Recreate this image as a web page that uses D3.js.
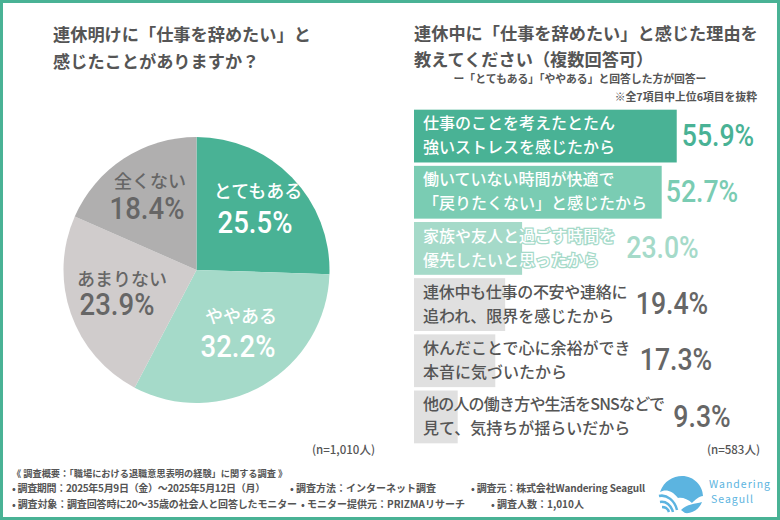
<!DOCTYPE html>
<html>
<head>
<meta charset="utf-8">
<script src="https://cdn.jsdelivr.net/npm/d3@7"></script>
<style>
  html, body { margin: 0; padding: 0; background: #fff; }
  svg { display: block; }
  text { font-family: "Noto Sans CJK JP", sans-serif; }
  .num { font-family: Roboto, sans-serif; font-weight: 500; }
</style>
</head>
<body>
<svg id="chart" width="780" height="520"></svg>
<script>
// pie: 連休明けに
var pieCategories = ["とてもある", "ややある", "あまりない", "全くない"];
var pieValues = [25.5, 32.2, 23.9, 18.4];
var pieColors = ["#49b295", "#a5dac9", "#d0cccc", "#b0afaf"];
var pieTextColors = ["#fff", "#fff", "#666", "#666"];

// bars: 理由
var barLines = [
  ["仕事のことを考えたとたん", "強いストレスを感じたから"],
  ["働いていない時間が快適で", "「戻りたくない」と感じたから"],
  ["家族や友人と過ごす時間を", "優先したいと思ったから"],
  ["連休中も仕事の不安や連絡に", "追われ、限界を感じたから"],
  ["休んだことで心に余裕ができ", "本音に気づいたから"],
  ["他の人の働き方や生活をSNSなどで", "見て、気持ちが揺らいだから"]
];
var barValues = [55.9, 52.7, 23.0, 19.4, 17.3, 9.3];
var barColors = ["#49b295", "#7accb3", "#a5dac9", "#e0e0e0", "#e0e0e0", "#e0e0e0"];
var barNumColors = ["#49b295", "#7accb3", "#a5dac9", "#666", "#666", "#666"];

var footerLines = [
  "《 調査概要：「職場における退職意思表明の経験」に関する調査 》",
  "• 調査期間：2025年5月9日（金）～2025年5月12日（月）",
  "• 調査方法：インターネット調査",
  "• 調査元：株式会社Wandering Seagull",
  "• 調査対象：調査回答時に20～35歳の社会人と回答したモニター",
  "• モニター提供元：PRIZMAリサーチ",
  "• 調査人数：1,010人"
];

var svg = d3.select("#chart");
var ink = "#555";

svg.append("rect").attr("x", 1.5).attr("y", 1.5).attr("width", 777).attr("height", 517)
  .attr("fill", "#fff").attr("stroke", "#49b295").attr("stroke-width", 3);

function label(x, y, str, size, color, weight, anchor) {
  return svg.append("text").attr("x", x).attr("y", y).text(str)
    .attr("font-size", size).attr("fill", color)
    .attr("font-weight", weight || 700)
    .attr("text-anchor", anchor || "start");
}

// the percentages in the picture are a narrow DIN-like face, so squeeze them
function percent(x, y, value, size, color) {
  return svg.append("text").attr("class", "num")
    .attr("transform", "translate(" + x + "," + y + ") scale(0.86,1)")
    .attr("text-anchor", "middle")
    .attr("font-size", size)
    .attr("fill", color)
    .text(value.toFixed(1) + "%");
}

// titles
label(53, 41, "連休明けに「仕事を辞めたい」と", 17.2, ink);
label(53, 68, "感じたことがありますか？", 17.2, ink);
label(414, 40, "連休中に「仕事を辞めたい」と感じた理由を", 17.2, ink);
label(414, 65.5, "教えてください（複数回答可）", 17.2, ink);
label(580, 83, "ー「とてもある」「ややある」と回答した方が回答ー", 10.8, ink, 700, "middle");
label(757, 101, "※全7項目中上位6項目を抜粋", 10.8, ink, 700, "end");

// pie
var cx = 196.5, cy = 270;
var pie = d3.pie().sort(null).value(function(d) { return d; });
var arc = d3.arc().innerRadius(0).outerRadius(133);
var arcs = pie(pieValues);

svg.append("g").attr("transform", "translate(" + cx + "," + cy + ")")
  .selectAll("path").data(arcs).enter().append("path")
  .attr("d", arc)
  .attr("fill", function(d, i) { return pieColors[i]; });

// label spots were set by hand, they do not follow the centroids
var nameSpots = [[258, 198], [241, 323], [122, 286], [150, 188]];
var numSpots = [[255, 233], [238, 357], [117, 315], [147, 219]];
arcs.forEach(function(d, i) {
  label(nameSpots[i][0], nameSpots[i][1], pieCategories[i], 18, pieTextColors[i], 500, "middle");
  percent(numSpots[i][0], numSpots[i][1], pieValues[i], 32, pieTextColors[i]);
});

label(375, 454, "(n=1,010人)", 11.5, ink, 500, "end");
label(760, 454, "(n=583人)", 11.5, ink, 500, "end");

// bars
var x = d3.scaleLinear().domain([0, 100]).range([414, 884]);
var y = d3.scaleBand().domain(d3.range(barValues.length)).range([108, 445]).paddingInner(0.06).paddingOuter(0.03);
var numCenters = [718, 702, 662.5, 672, 676, 702];

svg.selectAll("rect.bar").data(barValues).enter().append("rect")
  .attr("class", "bar")
  .attr("x", x(0))
  .attr("y", function(d, i) { return y(i); })
  .attr("width", function(d) { return x(d) - x(0); })
  .attr("height", y.bandwidth())
  .attr("fill", function(d, i) { return barColors[i]; });

barValues.forEach(function(d, i) {
  var top = y(i), light = i < 3;
  barLines[i].forEach(function(line, j) {
    var t = label(423, top + 19.5 + j * 24, line, 16, light ? "#fff" : ink, 500);
    if (i == 2) t.attr("stroke", "#a5dac9").attr("stroke-width", 2.5).attr("paint-order", "stroke");
    if (i == 3 && j == 0) t.attr("letter-spacing", -0.3);
    if (i == 5 && j == 0) t.attr("letter-spacing", -0.8);
  });
  percent(numCenters[i], top + 36, d, 31, barNumColors[i]);
});

// footer
label(12, 477, footerLines[0], 9.2, ink, 700);
label(12, 492, footerLines[1], 10, ink, 700).attr("letter-spacing", -0.3);
label(290, 492, footerLines[2], 10, ink, 700);
label(471, 492, footerLines[3], 10, ink, 700).attr("letter-spacing", -0.15);
label(12, 508, footerLines[4], 10, ink, 700).attr("letter-spacing", -0.15);
label(301, 508, footerLines[5], 10, ink, 700);
label(491, 508, footerLines[6], 10, ink, 700);

// logo
var logo = svg.append("g").attr("transform", "translate(659,476)");
logo.append("path")
  .attr("d", "M1,16 C5,5 14,0 23,0 C35,0 44,10 44,20 C40,20 36,24 33,27 C29,23 23,21 19,22 C13,14 6,13 1,16 Z")
  .attr("fill", "#5cb4e0");
logo.append("path")
  .attr("d", "M0,20 C8,18 16,25 18,34 M1,26 C7,25 12,29 14,36 M3,31 C7,31 9,33 10,36")
  .attr("fill", "none").attr("stroke", "#5cb4e0").attr("stroke-width", 2.5);
logo.append("path")
  .attr("d", "M22,34 C28,28 36,28 43,26 C40,34 32,38 26,37 Z")
  .attr("fill", "#5cb4e0");
label(709, 488, "Wandering", 10.5, "#5cb4e0", 400).attr("letter-spacing", 1);
label(711, 503, "Seagull", 10.5, "#5cb4e0", 400).attr("letter-spacing", 1);
</script>
</body>
</html>
